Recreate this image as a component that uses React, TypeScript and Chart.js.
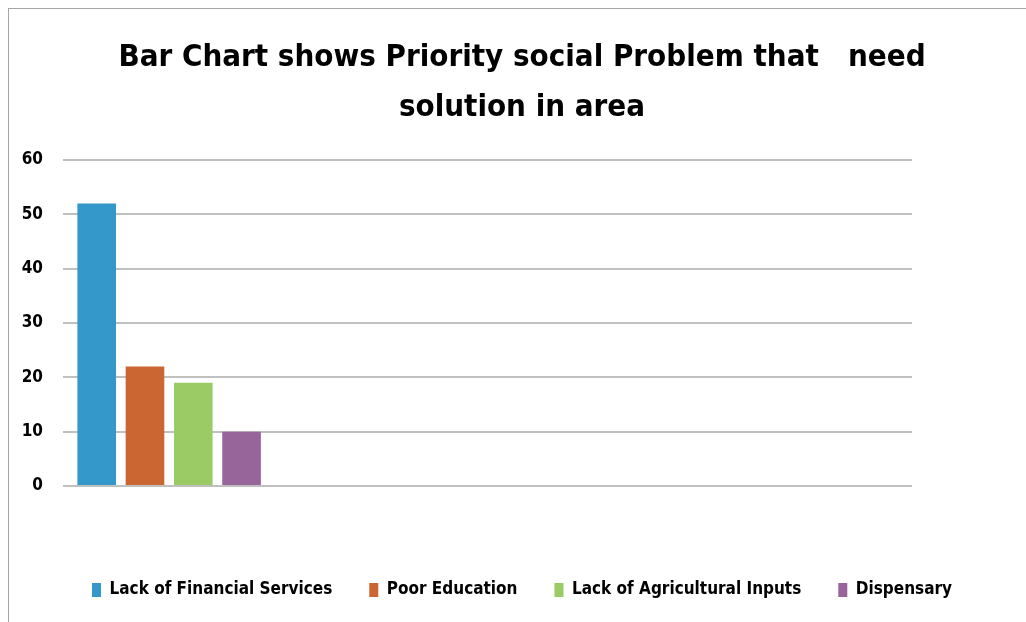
import React, { useEffect, useRef } from "react";
import { Chart, registerables } from "chart.js";

Chart.register(...registerables);

const titleLines = ["Bar Chart shows Priority social Problem that   need", "solution in area"];
const categories = ["", "", "", ""];
const seriesNames = ["Lack of Financial Services", "Poor Education", "Lack of Agricultural Inputs", "Dispensary"];
const seriesValues = [52, 22, 19, 10];
const seriesColors = ["#3498cb", "#cb6633", "#9bcb64", "#98659a"];
const yTicks = { min: 0, max: 60, step: 10 };

const FONT = '"DejaVu Sans Condensed", "Liberation Sans Narrow", "DejaVu Sans", sans-serif';

export default function App() {
  const ref = useRef<HTMLCanvasElement | null>(null);
  useEffect(() => {
    if (!ref.current) return;
    const chart = new Chart(ref.current, {
      type: "bar",
      data: {
        labels: categories,
        datasets: seriesNames.map((name, i) => ({
          label: name,
          data: [seriesValues[i]],
          backgroundColor: seriesColors[i],
          borderWidth: 0,
          categoryPercentage: 0.91,
          barPercentage: 0.8,
        })),
      },
      options: {
        responsive: false,
        animation: false,
        devicePixelRatio: 1,
        layout: { padding: { left: 18, right: 0, top: 0, bottom: 13.5 } },
        plugins: {
          tooltip: { enabled: false },
          title: {
            display: true,
            text: titleLines,
            color: "#000",
            font: { family: FONT, size: 31, weight: "bold", lineHeight: "50px" },
            padding: { top: 32.6, bottom: 27.4 },
          },
          legend: {
            display: true,
            position: "bottom",
            labels: {
              color: "#000",
              font: { family: FONT, size: 17, weight: "bold" },
              boxWidth: 9,
              boxHeight: 14,
              padding: 37,
            },
          },
        },
        scales: {
          x: {
            display: true,
            ticks: { display: false },
            grid: { display: false },
            border: { display: false },
            afterFit: (s: any) => {
              s.height = 58.5;
            },
          },
          y: {
            min: yTicks.min,
            max: yTicks.max,
            ticks: {
              stepSize: yTicks.step,
              color: "#000",
              padding: 20,
              font: { family: FONT, size: 17, weight: "bold" },
            },
            grid: { color: "#c0c0c0", lineWidth: 2, drawTicks: false },
            border: { display: false },
            afterFit: (s: any) => {
              s.width = 45;
            },
          },
          y2: {
            type: "linear",
            position: "right",
            display: true,
            ticks: { display: false },
            grid: { display: false },
            border: { display: false },
            afterFit: (s: any) => {
              s.width = 114;
            },
          },
        },
      } as any,
    });
    return () => chart.destroy();
  }, []);
  return (
    <>
      <div
        style={{
          position: "fixed",
          left: 8,
          top: 8,
          width: 1200,
          height: 1200,
          borderLeft: "1.5px solid #a6a6a6",
          borderTop: "1.5px solid #a6a6a6",
        }}
      />
      <canvas
        ref={ref}
        width={1026}
        height={622}
        style={{ position: "fixed", left: 0, top: 0, width: 1026, height: 622 }}
      />
    </>
  );
}
